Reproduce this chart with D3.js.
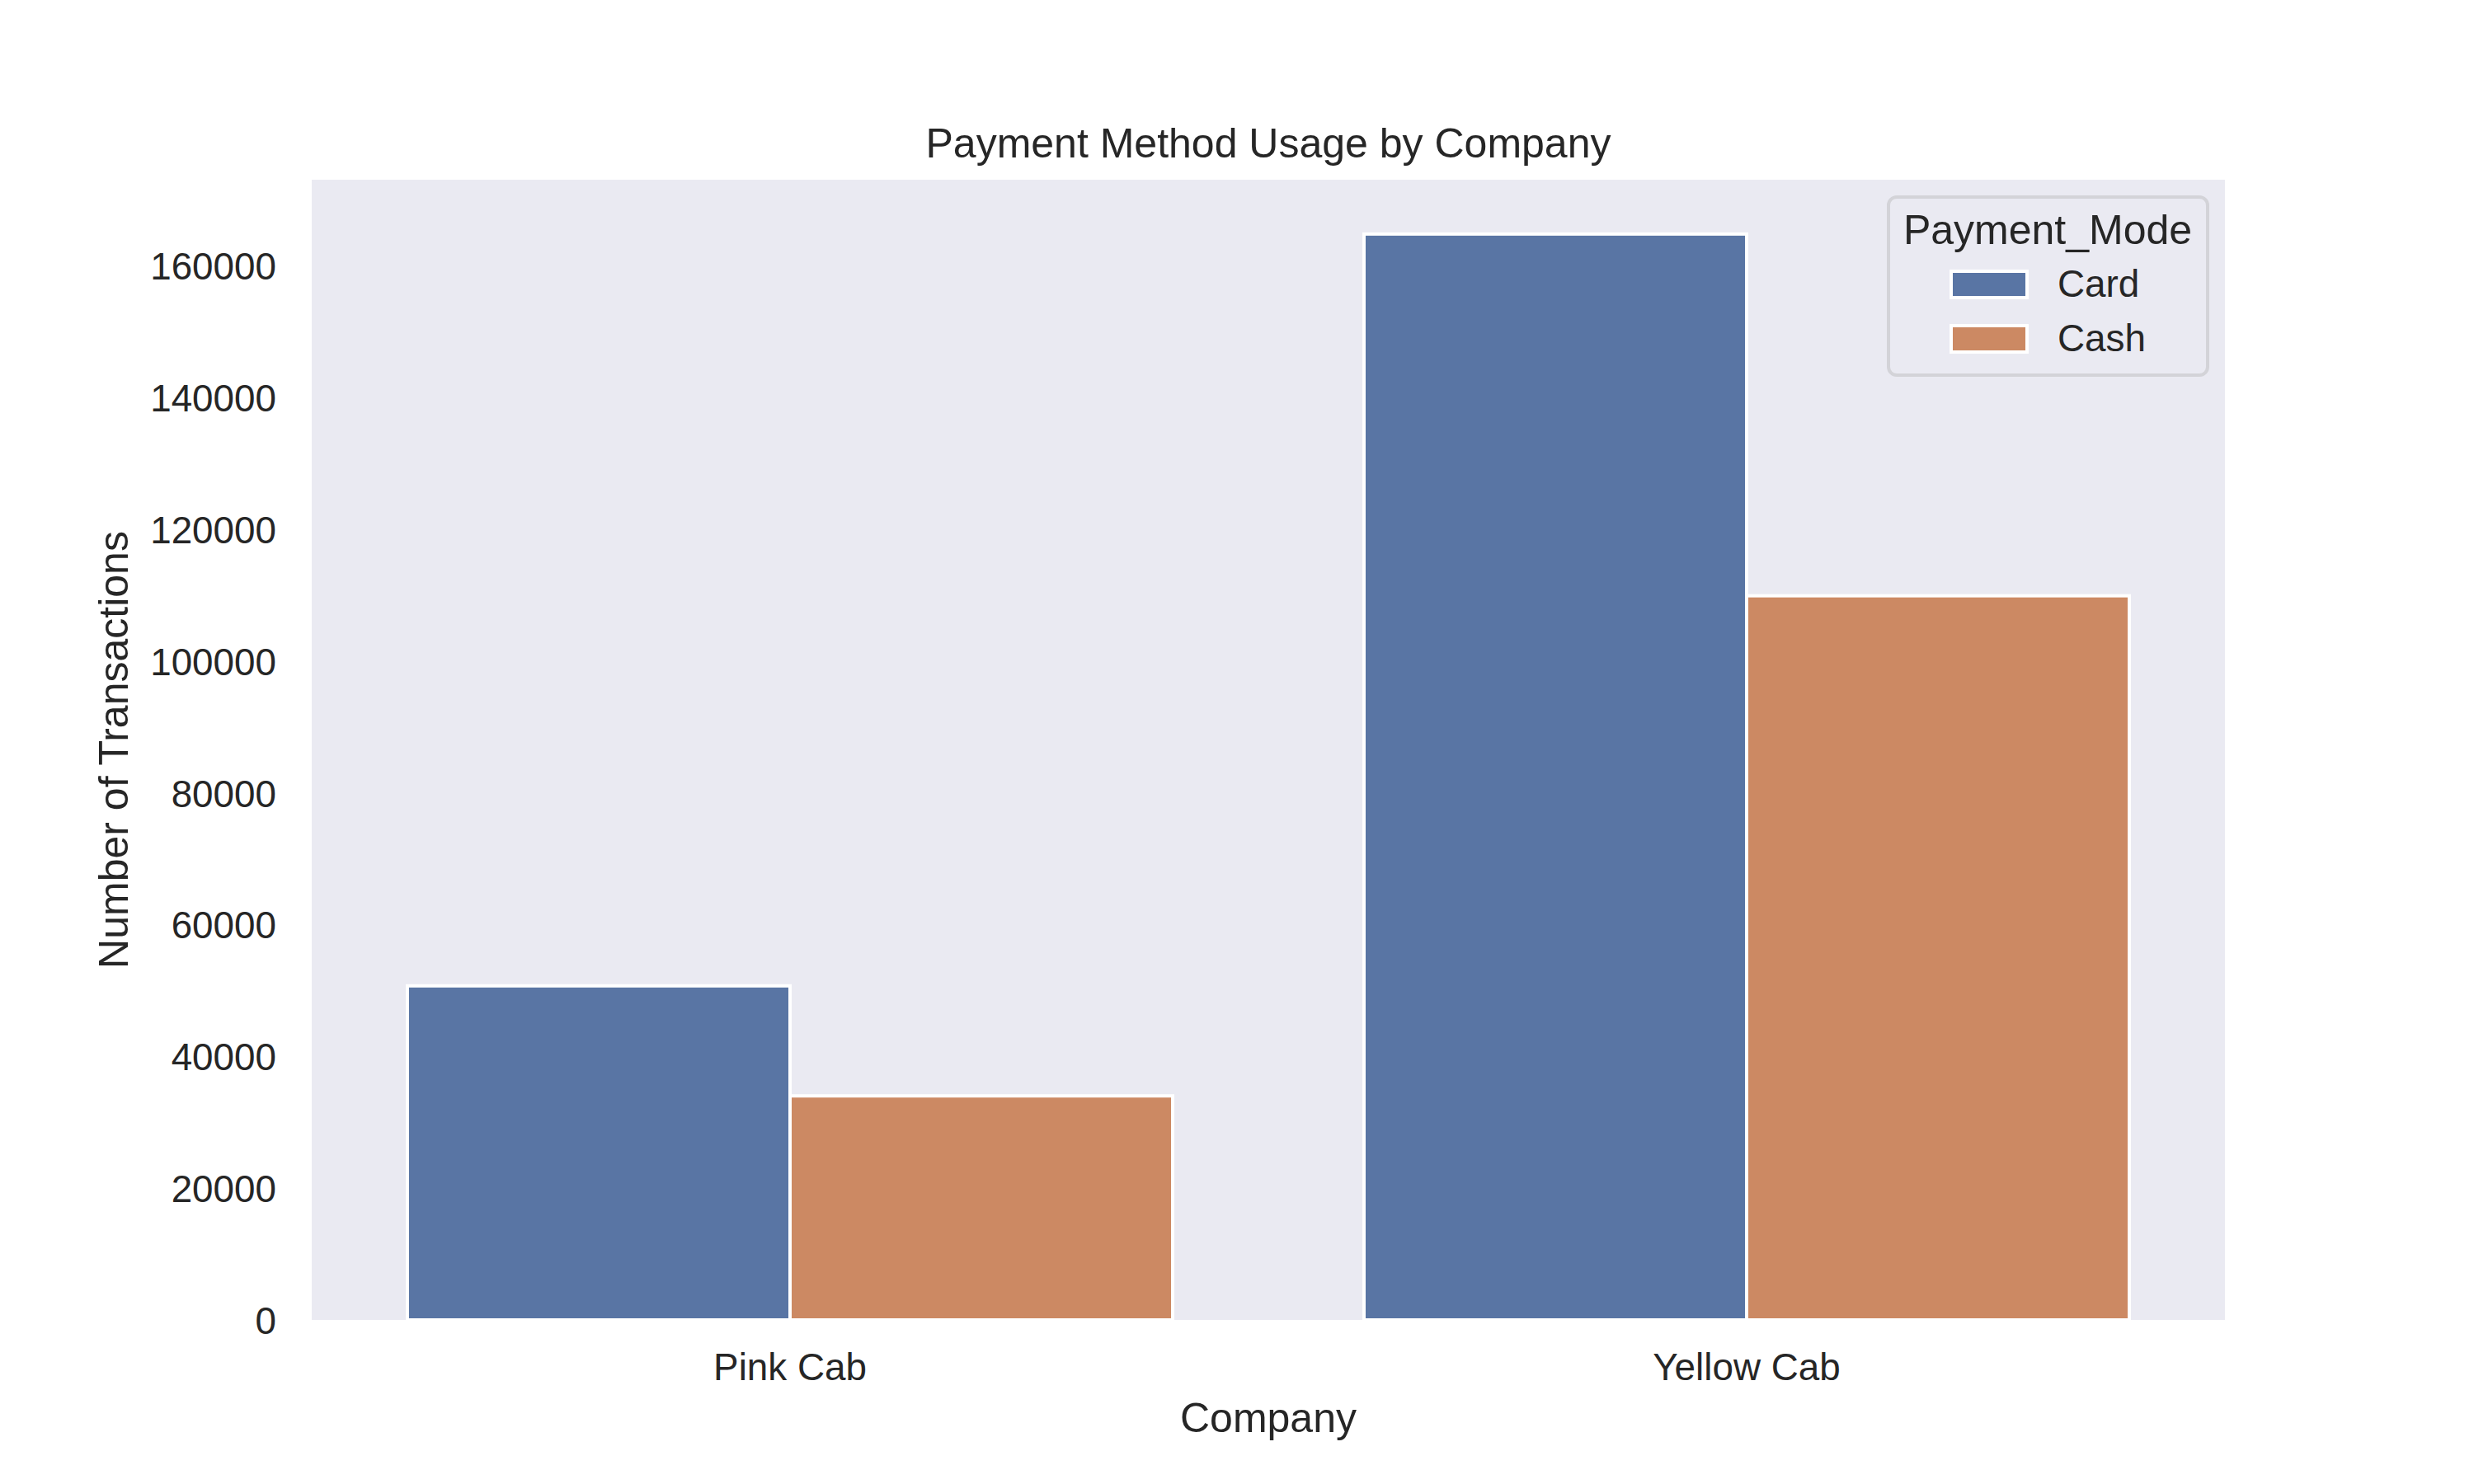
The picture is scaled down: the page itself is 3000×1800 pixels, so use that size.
<!DOCTYPE html>
<html><head><meta charset="utf-8">
<script src="https://cdn.jsdelivr.net/npm/d3@7"></script>
<style>body{margin:0;background:#fff}svg{display:block}text{font-family:"Liberation Sans",Arial,sans-serif;fill:#262626}</style>
</head><body>
<script>
const companies = ["Pink Cab", "Yellow Cab"];
const modes = ["Card", "Cash"];
const cardValues = [50700, 164800];
const cashValues = [34000, 109900];
const yTicks = [0, 20000, 40000, 60000, 80000, 100000, 120000, 140000, 160000];
const colors = ["#5975A4", "#CC8963"];
const titleText = "Payment Method Usage by Company";
const xLabel = "Company";
const yLabel = "Number of Transactions";
const legendTitle = "Payment_Mode";

const W = 3000, H = 1800;
const L = 378, R = 2698, T = 218, B = 1601;
const series = [cardValues, cashValues];
const ymax = d3.max(series.flat()) * 1.05;

const svg = d3.select("body").append("svg").attr("width", W).attr("height", H);
svg.append("rect").attr("x", L).attr("y", T).attr("width", R - L).attr("height", B - T).attr("fill", "#EAEAF2");

const x0 = d3.scaleBand().domain(companies).range([L, R]).paddingInner(0.2).paddingOuter(0.1);
const x1 = d3.scaleBand().domain(modes).range([0, x0.bandwidth()]);
const y = d3.scaleLinear().domain([0, ymax]).range([B, T]);

const data = [];
companies.forEach((c, i) => modes.forEach((m, j) => data.push({c, m, j, v: series[j][i]})));
svg.append("g").selectAll("rect").data(data).join("rect")
  .attr("x", d => x0(d.c) + x1(d.m))
  .attr("y", d => y(d.v))
  .attr("width", x1.bandwidth())
  .attr("height", d => B - y(d.v))
  .attr("fill", d => colors[d.j])
  .attr("stroke", "#fff").attr("stroke-width", 4);

// y axis
const ya = svg.append("g").attr("transform", `translate(${L},0)`)
  .call(d3.axisLeft(y).tickValues(yTicks).tickSize(0).tickPadding(43).tickFormat(d3.format("d")));
ya.select(".domain").remove();
ya.selectAll("text").attr("font-size", 45.8).attr("dy", "0.36em").attr("fill", "#262626").style("font-family", '"Liberation Sans",Arial,sans-serif');

// x axis
const xa = svg.append("g").attr("transform", `translate(0,${B})`)
  .call(d3.axisBottom(x0).tickSize(0).tickPadding(40));
xa.select(".domain").remove();
xa.selectAll("text").attr("font-size", 45.8).attr("fill", "#262626").style("font-family", '"Liberation Sans",Arial,sans-serif');

svg.append("text").attr("x", (L + R) / 2).attr("y", 191).attr("text-anchor", "middle").attr("font-size", 50).text(titleText);
svg.append("text").attr("x", (L + R) / 2).attr("y", 1737).attr("text-anchor", "middle").attr("font-size", 50).text(xLabel);
svg.append("text").attr("transform", `translate(155,${(T + B) / 2}) rotate(-90)`).attr("text-anchor", "middle").attr("font-size", 50).text(yLabel);

// legend
const lg = svg.append("g");
lg.append("rect").attr("x", 2290).attr("y", 239).attr("width", 387).attr("height", 216).attr("rx", 10)
  .attr("fill", "#EAEAF2").attr("stroke", "#D3D3D8").attr("stroke-width", 4);
lg.append("text").attr("x", 2483).attr("y", 296).attr("text-anchor", "middle").attr("font-size", 50).text(legendTitle);
modes.forEach((m, j) => {
  lg.append("rect").attr("x", 2366).attr("y", 329 + j * 66).attr("width", 92).attr("height", 32)
    .attr("fill", colors[j]).attr("stroke", "#fff").attr("stroke-width", 4);
  lg.append("text").attr("x", 2495).attr("y", 360 + j * 66).attr("font-size", 45.8).text(m);
});
</script>
</body></html>
